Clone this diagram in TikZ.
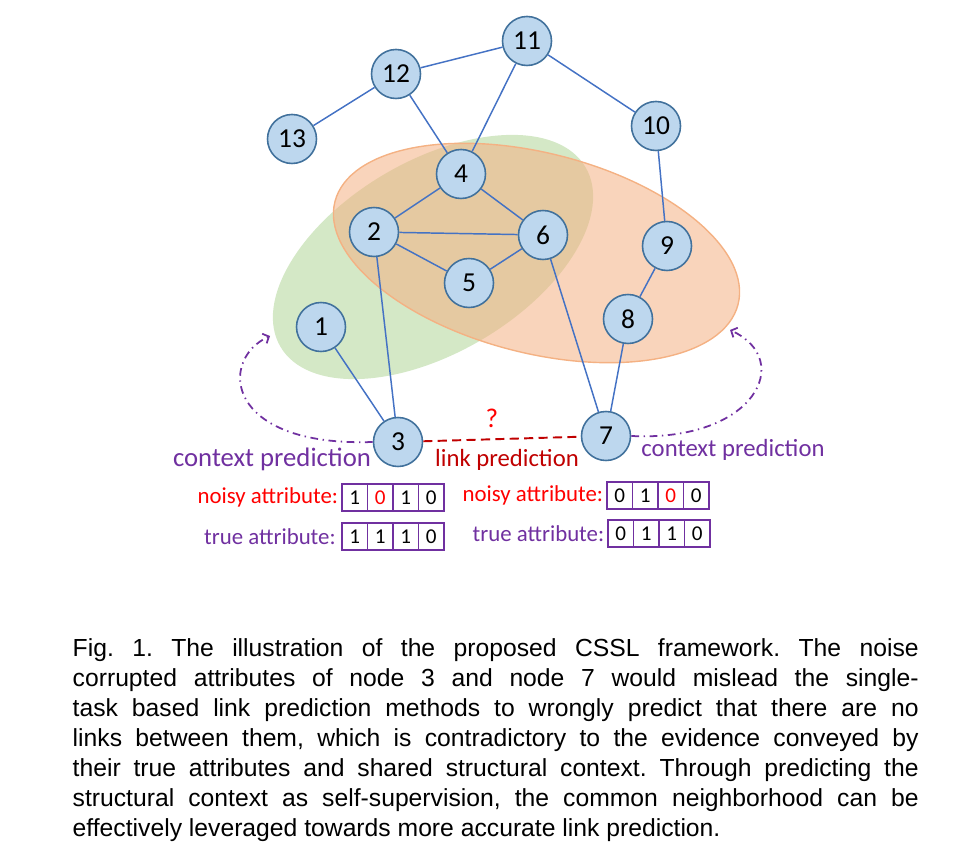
\documentclass[tikz,border=0pt]{standalone}
\usepackage{fontspec}
\setmainfont{Carlito}
\newfontfamily\capfont{Liberation Sans}
\usetikzlibrary{positioning,arrows.meta}

\definecolor{nodefill}{HTML}{BDD7EE}
\definecolor{nodeline}{HTML}{41719C}
\definecolor{edgeblue}{HTML}{4472C4}
\definecolor{ctxpurple}{HTML}{7030A0}
\definecolor{linkred}{HTML}{C00000}
\definecolor{grnfill}{HTML}{A9D18E}
\definecolor{orgfill}{HTML}{F4B183}

% one attribute vector: name, x, y, four digits
\newcommand{\attrrow}[7]{%
  \foreach \d [count=\i] in {#4,#5,#6,#7}
    \node[cell] (#1\i) at ({#2+(\i-1)*0.255},#3) {\d};
}
\newcommand{\capline}[1]{\makebox[8.46cm][s]{#1}}

\begin{document}
\begin{tikzpicture}[
  x=1cm, y=-1cm,
  v/.style={circle, draw=nodeline, fill=nodefill, line width=0.45pt,
    minimum size=0.49cm, inner sep=0pt, font=\fontsize{7.8}{9}\selectfont},
  e/.style={edgeblue, line width=0.42pt},
  cell/.style={draw=ctxpurple, line width=0.4pt, minimum width=0.255cm,
    minimum height=0.27cm, inner sep=0pt, font=\fontsize{6}{7}\selectfont},
  lbl/.style={inner sep=0pt, font=\fontsize{6.5}{7.5}\selectfont},
  ctx/.style={ctxpurple, line width=0.5pt,
    dash pattern=on 2.2pt off 1.3pt on 0.4pt off 1.3pt,
    -{Straight Barb[length=1.4pt, width=3pt]}}
]
\useasboundingbox (0,0) rectangle (9.61,8.52);

% the two context regions
\fill[grnfill, opacity=0.5, rotate around={30.5:(4.33,2.57)}]
  (4.33,2.57) ellipse [x radius=1.77, y radius=0.96];
\filldraw[fill=orgfill, draw=orgfill, fill opacity=0.55, line width=0.4pt,
  rotate around={-14.3:(5.365,2.53)}]
  (5.365,2.53) ellipse [x radius=2.08, y radius=1.00];

% graph
\node[v] (1) at (3.21,3.27) {1};
\node[v] (2) at (3.74,2.32) {2};
\node[v] (3) at (3.98,4.42) {3};
\node[v] (4) at (4.61,1.74) {4};
\node[v] (5) at (4.69,2.83) {5};
\node[v] (6) at (5.43,2.35) {6};
\node[v] (7) at (6.06,4.36) {7};
\node[v] (8) at (6.28,3.19) {8};
\node[v] (9) at (6.67,2.46) {9};
\node[v] (10) at (6.56,1.26) {10};
\node[v] (11) at (5.27,0.41) {11};
\node[v] (12) at (3.96,0.74) {12};
\node[v] (13) at (2.92,1.39) {13};

\foreach \a/\b in {13/12, 12/11, 12/4, 11/4, 11/10, 10/9, 9/8, 8/7,
                   6/7, 4/2, 4/6, 2/6, 2/5, 5/6, 2/3, 1/3}
  \draw[e] (\a) -- (\b);

% link prediction
\draw[linkred, line width=0.55pt, dash pattern=on 2.6pt off 1.5pt] (3) -- (7);
\node[red, inner sep=0pt, font=\fontsize{7.7}{9}\selectfont, anchor=base]
  (qmark) at (4.92,4.28) {?};
\node[linkred, inner sep=0pt, font=\fontsize{7.03}{8}\selectfont, anchor=base]
  (linklbl) at (5.07,4.67) {link prediction};

% context prediction
\coordinate (gtip) at (2.70,3.36);
\coordinate (otip) at (7.30,3.30);
\draw[ctx] (3.west) .. controls (2.25,4.47) and (2.18,3.60) .. (gtip);
\draw[ctx] (7.east) .. controls (7.55,4.42) and (7.95,3.60) .. (otip);
\node[ctxpurple, inner sep=0pt, font=\fontsize{7.6}{9}\selectfont, anchor=base]
  (ctxl) at (2.72,4.67) {context prediction};
\node[ctxpurple, inner sep=0pt, font=\fontsize{7.03}{8}\selectfont, anchor=base]
  (ctxr) at (7.33,4.57) {context prediction};

% attribute vectors
\attrrow{an3}{3.548}{4.975}{1}{\textcolor{red}{0}}{1}{0}
\attrrow{at3}{3.548}{5.365}{1}{1}{1}{0}
\attrrow{an7}{6.198}{4.955}{0}{1}{\textcolor{red}{0}}{0}
\attrrow{at7}{6.208}{5.335}{0}{1}{1}{0}

\node[lbl, red, left=0.025 of an31] (noisy3) {noisy attribute:};
\node[lbl, ctxpurple, left=0.05 of at31] (true3) {true attribute:};
\node[lbl, red, left=0.025 of an71] (noisy7) {noisy attribute:};
\node[lbl, ctxpurple, left=0.025 of at71] (true7) {true attribute:};

% caption
\node[anchor=north west, inner sep=0pt, align=left,
  font=\capfont\fontsize{7.03}{8.54}\selectfont\frenchspacing] (cap) at (0.72,6.38) {%
  \capline{Fig. 1. The illustration of the proposed CSSL framework. The noise}\\
  \capline{corrupted attributes of node 3 and node 7 would mislead the single-}\\
  \capline{task based link prediction methods to wrongly predict that there are no}\\
  \capline{links between them, which is contradictory to the evidence conveyed by}\\
  \capline{their true attributes and shared structural context. Through predicting the}\\
  \capline{structural context as self-supervision, the common neighborhood can be}\\
  effectively leveraged towards more accurate link prediction.};
\end{tikzpicture}
\end{document}
